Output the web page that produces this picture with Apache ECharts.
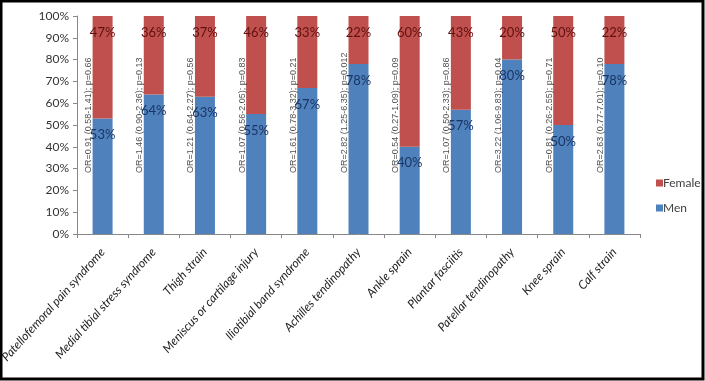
<!DOCTYPE html>
<html><head><meta charset="utf-8">
<script src="https://cdn.jsdelivr.net/npm/echarts@6/dist/echarts.min.js"></script>
<style>html,body{margin:0;padding:0;background:#fff}#c{width:705px;height:381px}</style>
</head><body><div id="c"></div>
<script>
const categories = ['Patellofemoral pain syndrome','Medial tibial stress syndrome','Thigh strain','Meniscus or cartilage injury','Iliotibial band syndrome','Achilles tendinopathy','Ankle sprain','Plantar fasciitis','Patellar tendinopathy','Knee sprain','Calf strain'];
const men = [53,64,63,55,67,78,40,57,80,50,78];
const female = [47,36,37,46,33,22,60,43,20,50,22];
const orLabels = ['OR=0.91 (0.58-1.41); p=0.66','OR=1.46 (0.90-2.36); p=0.13','OR=1.21 (0.64-2.27); p=0.56','OR=1.07 (0.56-2.05); p=0.83','OR=1.61 (0.78-3.32); p=0.21','OR=2.82 (1.25-6.35); p=0.012','OR=0.54 (0.27-1.09); p=0.09','OR=1.07 (0.50-2.33); p=0.86','OR=3.22 (1.06-9.83); p=0.04','OR=0.81 (0.26-2.55); p=0.71','OR=2.63 (0.77-7.01); p=0.10'];
const orLabelBase = 28;
const yTicks = [0,10,20,30,40,50,60,70,80,90,100];

const narrow = 'Lato, "Liberation Sans", sans-serif';
const chart = echarts.init(document.getElementById('c'));
chart.setOption({
  animation: false,
  backgroundColor: '#fff',
  grid: {left: 77, right: 65, top: 16, bottom: 147, containLabel: false, outerBoundsMode: 'none'},
  legend: {
    orient: 'vertical', left: 651, top: 172,
    itemWidth: 7, itemHeight: 7, itemGap: 13, icon: 'rect',
    data: ['Female','Men'],
    textStyle: {fontFamily: narrow, fontSize: 12, color: '#404040', padding: [0,0,0,-5]}
  },
  xAxis: {
    type: 'category', data: categories,
    axisLine: {lineStyle: {color: '#888'}},
    axisTick: {show: true, length: 4, lineStyle: {color: '#888'}},
    axisLabel: {rotate: 48, interval: 0, fontFamily: narrow, fontStyle: 'italic', fontSize: 12, color: '#222', margin: 16}
  },
  yAxis: {
    type: 'value', min: 0, max: 100, interval: 10,
    axisLine: {show: true, lineStyle: {color: '#888'}},
    axisTick: {show: true, length: 4, inside: false, lineStyle: {color: '#888'}},
    splitLine: {show: false},
    axisLabel: {formatter: v => yTicks.includes(v) ? v + '%' : '', fontFamily: narrow, fontSize: 12, color: '#333', margin: 8}
  },
  series: [
    {
      name: 'Men', type: 'bar', stack: 's', data: men, barWidth: 20,
      itemStyle: {color: '#4f81bd'},
      label: {show: true, position: 'insideTop', distance: 10, formatter: '{c}%', fontFamily: narrow, fontSize: 13, color: '#1a3563'}
    },
    {
      name: 'Female', type: 'bar', stack: 's', data: female, barWidth: 20,
      itemStyle: {color: '#c0504d'},
      label: {show: true, position: 'insideTop', distance: 10, formatter: '{c}%', fontFamily: narrow, fontSize: 13, color: '#601010'}
    },
    {
      name: 'OR', type: 'scatter', symbolSize: 0, silent: true,
      data: orLabels.map((t, i) => ({value: [i, orLabelBase], name: t})),
      label: {show: true, position: 'inside', rotate: 90, align: 'left', verticalAlign: 'middle', offset: [0, -14],
        formatter: p => p.name, fontFamily: '"Liberation Sans", Arial, sans-serif', fontSize: 9, color: '#222'}
    }
  ],
  graphic: [{type: 'rect', shape: {x: 1, y: 1, width: 702, height: 378}, style: {fill: 'none', stroke: '#000', lineWidth: 3}, z: 100}]
});
</script></body></html>
